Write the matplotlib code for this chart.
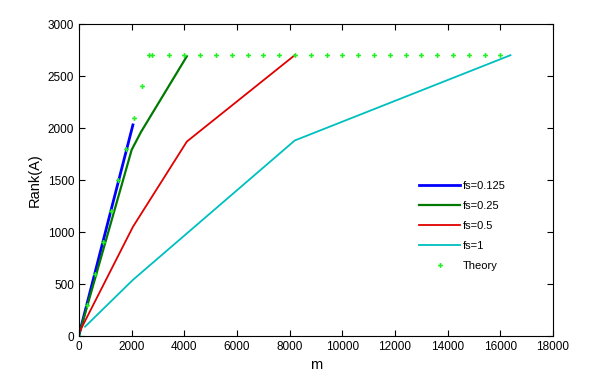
import numpy as np
import matplotlib.pyplot as plt

plt.rcParams['font.family'] = ['Liberation Sans', 'DejaVu Sans']

# measured rank vs m for each fs
m_0125 = [0, 2048]
r_0125 = [10, 2030]
m_025 = [0, 2000, 2350, 4096]
r_025 = [10, 1790, 1960, 2690]
m_05 = [40, 2048, 4096, 8192]
r_05 = [50, 1050, 1870, 2700]
m_1 = [230, 2048, 8192, 16384]
r_1 = [90, 540, 1880, 2700]

# theory points
m_th = [0, 300, 600, 900, 1200, 1500, 1800, 2100, 2400, 2650, 2760,
        3400, 4000, 4600, 5200, 5800, 6400, 7000, 7600, 8200, 8800, 9400,
        10000, 10600, 11200, 11800, 12400, 13000, 13600, 14200, 14800,
        15400, 16000]
r_th = [0, 300, 600, 900, 1200, 1500, 1800, 2100, 2400, 2700, 2700] + [2700] * 22

fig = plt.figure(figsize=(6.09, 3.78), dpi=100)
ax = fig.add_axes([0.1297, 0.111, 0.7784, 0.8255])

ax.plot(m_0125, r_0125, color='#0000ff', lw=2.0, label='fs=0.125')
ax.plot(m_025, r_025, color='#007a00', lw=1.6, label='fs=0.25')
ax.plot(m_05, r_05, color='#e00000', lw=1.3, label='fs=0.5')
ax.plot(m_1, r_1, color='#00bfbf', lw=1.3, label='fs=1')
ax.plot(m_th, r_th, ls='none', marker='P', ms=3.5, color='#22ee22', mew=0,
        label='Theory')

ax.set_xlim(0, 18000)
ax.set_ylim(0, 3000)
ax.set_xticks(np.arange(0, 18001, 2000))
ax.set_yticks(np.arange(0, 3001, 500))
ax.tick_params(direction='in', top=True, right=True, labelsize=8.5, length=4)
ax.set_xlabel('m', fontsize=10.5)
ax.set_ylabel('Rank(A)', fontsize=10.5)

ax.legend(loc='upper left', bbox_to_anchor=(0.708, 0.51), frameon=False,
          fontsize=8, handlelength=3.7, handletextpad=0.2, labelspacing=0.9,
          borderaxespad=0)

fig.savefig('out.png', dpi=100)
